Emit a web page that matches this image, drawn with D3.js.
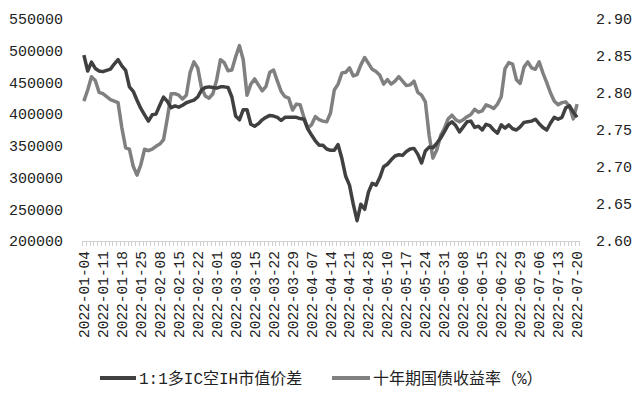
<!DOCTYPE html>
<html>
<head>
<meta charset="utf-8">
<script src="https://cdn.jsdelivr.net/npm/d3@7"></script>
<style>
body { margin: 0; background: #fff; }
text { font-family: "Liberation Mono", "Noto Sans CJK SC", monospace; fill: #222; }
</style>
</head>
<body>
<svg width="640" height="394"></svg>
<script>
// trading days shown on the axis (every 5th is labelled)
var dates = [
 "2022-01-04","2022-01-05","2022-01-06","2022-01-07","2022-01-10","2022-01-11","2022-01-12","2022-01-13","2022-01-14","2022-01-17",
 "2022-01-18","2022-01-19","2022-01-20","2022-01-21","2022-01-24","2022-01-25","2022-01-26","2022-01-27","2022-01-28","2022-02-07",
 "2022-02-08","2022-02-09","2022-02-10","2022-02-11","2022-02-14","2022-02-15","2022-02-16","2022-02-17","2022-02-18","2022-02-21",
 "2022-02-22","2022-02-23","2022-02-24","2022-02-25","2022-02-28","2022-03-01","2022-03-02","2022-03-03","2022-03-04","2022-03-07",
 "2022-03-08","2022-03-09","2022-03-10","2022-03-11","2022-03-14","2022-03-15","2022-03-16","2022-03-17","2022-03-18","2022-03-21",
 "2022-03-22","2022-03-23","2022-03-24","2022-03-25","2022-03-28","2022-03-29","2022-03-30","2022-03-31","2022-04-01","2022-04-06",
 "2022-04-07","2022-04-08","2022-04-11","2022-04-12","2022-04-13","2022-04-14","2022-04-15","2022-04-18","2022-04-19","2022-04-20",
 "2022-04-21","2022-04-22","2022-04-25","2022-04-26","2022-04-27","2022-04-28","2022-04-29","2022-05-05","2022-05-06","2022-05-09",
 "2022-05-10","2022-05-11","2022-05-12","2022-05-13","2022-05-16","2022-05-17","2022-05-18","2022-05-19","2022-05-20","2022-05-23",
 "2022-05-24","2022-05-25","2022-05-26","2022-05-27","2022-05-30","2022-05-31","2022-06-01","2022-06-02","2022-06-06","2022-06-07",
 "2022-06-08","2022-06-09","2022-06-10","2022-06-13","2022-06-14","2022-06-15","2022-06-16","2022-06-17","2022-06-20","2022-06-21",
 "2022-06-22","2022-06-23","2022-06-24","2022-06-27","2022-06-28","2022-06-29","2022-06-30","2022-07-01","2022-07-04","2022-07-05",
 "2022-07-06","2022-07-07","2022-07-08","2022-07-11","2022-07-12","2022-07-13","2022-07-14","2022-07-15","2022-07-18","2022-07-19",
 "2022-07-20"
];

// 1:1 long IC short IH market value spread (left axis)
var spread = [
 493000,468000,482000,472000,468000,467000,469000,471000,479000,486000,
 476000,469000,443000,436000,422000,409000,399000,389000,399000,400000,
 414000,427000,420000,410000,413000,411000,414000,418000,420000,422000,
 427000,438000,442000,443000,442000,441000,443000,443000,442000,427000,
 397000,391000,407000,407000,384000,381000,385000,391000,395000,398000,
 397000,395000,390000,395000,395000,395000,395000,393000,392000,377000,
 367000,358000,351000,351000,345000,343000,343000,352000,330000,302000,
 288000,258000,232000,258000,250000,277000,291000,288000,300000,317000,
 321000,328000,334000,336000,335000,341000,345000,346000,337000,323000,
 342000,348000,347000,354000,362000,372000,383000,388000,382000,372000,
 380000,388000,389000,379000,381000,375000,384000,382000,375000,370000,
 383000,378000,383000,377000,375000,380000,387000,388000,389000,392000,
 385000,379000,375000,386000,395000,392000,395000,410000,413000,403000,
 395000
];

// 10-year government bond yield, % (right axis)
var yield10 = [
 2.789,2.804,2.822,2.817,2.801,2.799,2.795,2.791,2.789,2.787,
 2.753,2.726,2.724,2.701,2.689,2.703,2.724,2.722,2.724,2.728,
 2.731,2.737,2.766,2.799,2.799,2.797,2.792,2.797,2.828,2.842,
 2.834,2.807,2.796,2.793,2.799,2.818,2.845,2.841,2.830,2.831,
 2.849,2.864,2.845,2.797,2.812,2.819,2.811,2.803,2.809,2.828,
 2.831,2.816,2.802,2.795,2.793,2.777,2.785,2.784,2.767,2.753,
 2.757,2.768,2.764,2.762,2.761,2.773,2.804,2.812,2.827,2.828,
 2.834,2.823,2.825,2.838,2.848,2.840,2.832,2.829,2.824,2.812,
 2.818,2.812,2.816,2.822,2.816,2.810,2.811,2.816,2.801,2.797,
 2.788,2.743,2.712,2.723,2.742,2.752,2.765,2.770,2.764,2.761,
 2.764,2.768,2.771,2.778,2.774,2.776,2.784,2.782,2.779,2.785,
 2.795,2.833,2.841,2.839,2.818,2.813,2.835,2.842,2.834,2.832,
 2.842,2.827,2.814,2.800,2.789,2.784,2.787,2.788,2.782,2.765,
 2.785
];

var leftTicks = [200000,250000,300000,350000,400000,450000,500000,550000];
var rightTicks = [2.60,2.65,2.70,2.75,2.80,2.85,2.90];
var seriesNames = ["1:1多IC空IH市值价差", "十年期国债收益率（%）"];
var colors = ["#404040", "#808080"];

var svg = d3.select("svg");
var plotLeft = 82, plotRight = 579, plotTop = 19, plotBottom = 241;

var x = d3.scalePoint().domain(dates).range([plotLeft, plotRight]).padding(0.5);
var yL = d3.scaleLinear().domain([200000, 550000]).range([plotBottom, plotTop]);
var yR = d3.scaleLinear().domain([2.60, 2.90]).range([plotBottom, plotTop]);

// left axis labels
svg.append("g").attr("transform", "translate(" + 63 + ",0)")
  .call(d3.axisLeft(yL).tickValues(leftTicks).tickSize(0).tickPadding(0).tickFormat(d3.format("d")))
  .call(function(g){ g.select(".domain").remove(); })
  .selectAll("text").style("font-size", "15px").attr("fill", "#222");

// right axis labels
svg.append("g").attr("transform", "translate(" + 596 + ",0)")
  .call(d3.axisRight(yR).tickValues(rightTicks).tickSize(0).tickPadding(0).tickFormat(d3.format(".2f")))
  .call(function(g){ g.select(".domain").remove(); })
  .selectAll("text").style("font-size", "15px").attr("fill", "#222");

// bottom axis: light line with a tick between every category
var step = x.step();
var xa = svg.append("g");
xa.append("line").attr("x1", plotLeft).attr("x2", plotRight).attr("y1", plotBottom + 0.5).attr("y2", plotBottom + 0.5)
  .attr("stroke", "#d0d0d0");
xa.selectAll("line.tk").data(d3.range(dates.length + 1)).enter().append("line")
  .attr("class", "tk")
  .attr("x1", function(i){ return Math.round(plotLeft + i * step) + 0.5; })
  .attr("x2", function(i){ return Math.round(plotLeft + i * step) + 0.5; })
  .attr("y1", plotBottom).attr("y2", plotBottom + 5)
  .attr("stroke", "#d0d0d0");

xa.selectAll("text").data(dates.filter(function(d, i){ return i % 5 === 0; })).enter().append("text")
  .attr("transform", function(d){ return "translate(" + (x(d) + 5) + "," + (plotBottom + 10) + ") rotate(-90)"; })
  .attr("text-anchor", "end")
  .style("font-size", "14.5px")
  .text(function(d){ return d; });

// lines
var lineL = d3.line().x(function(d, i){ return x(dates[i]); }).y(function(d){ return yL(d); });
var lineR = d3.line().x(function(d, i){ return x(dates[i]); }).y(function(d){ return yR(d); });

svg.append("path").datum(yield10).attr("d", lineR)
  .attr("fill", "none").attr("stroke", colors[1]).attr("stroke-width", 3.5).attr("stroke-linejoin", "round");
svg.append("path").datum(spread).attr("d", lineL)
  .attr("fill", "none").attr("stroke", colors[0]).attr("stroke-width", 3.5).attr("stroke-linejoin", "round");

// legend
var lg = [{x: 100, w: 36}, {x: 332, w: 38}];
lg.forEach(function(p, i){
  svg.append("line").attr("x1", p.x).attr("x2", p.x + p.w).attr("y1", 378).attr("y2", 378)
    .attr("stroke", colors[i]).attr("stroke-width", 4);
  svg.append("text").attr("x", p.x + p.w + 3).attr("y", 384)
    .style("font-size", "16px").text(seriesNames[i]);
});
</script>
</body>
</html>
